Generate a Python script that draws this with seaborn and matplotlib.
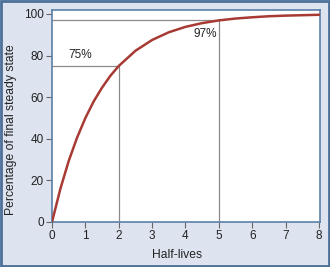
import matplotlib
matplotlib.use("Agg")
import matplotlib.pyplot as plt
import seaborn as sns
import pandas as pd
from matplotlib.patches import Rectangle

half_lives = [0, 0.25, 0.5, 0.75, 1, 1.25, 1.5, 1.75, 2, 2.5, 3, 3.5, 4, 4.5, 5, 5.5, 6, 6.5, 7, 7.5, 8]
percent = [0, 15.9, 29.3, 40.5, 50, 58.0, 64.6, 70.3, 75, 82.3, 87.5, 91.2, 93.8, 95.6, 96.9, 97.8, 98.4, 98.9, 99.2, 99.4, 99.6]
marks_x = [2, 5]
marks_y = [75, 97]
mark_labels = ["75%", "97%"]
x_ticks = [0, 1, 2, 3, 4, 5, 6, 7, 8]
y_ticks = [0, 20, 40, 60, 80, 100]

sns.set_theme(style="white")
plt.rcParams['font.family'] = ['Liberation Sans', 'DejaVu Sans']

bg = "#dde4f0"
spine_c = "#5b7fa8"
fig = plt.figure(figsize=(3.3, 2.67), dpi=100, facecolor=bg)
ax = fig.add_axes([52/330, 1-222/267, 268/330, 212/267])
ax.set_facecolor("white")

df = pd.DataFrame({"x": half_lives, "y": percent})
for mx, my in zip(marks_x, marks_y):
    ax.plot([0, mx], [my, my], color="#8a8a8a", lw=0.9, zorder=1)
    ax.plot([mx, mx], [0, my], color="#8a8a8a", lw=0.9, zorder=1)
sns.lineplot(data=df, x="x", y="y", ax=ax, color="#a83a34", lw=1.8, zorder=3)

ax.text(0.5, 77.5, mark_labels[0], fontsize=8.5, ha="left", va="bottom", color="#222222")
ax.text(4.93, 90.5, mark_labels[1], fontsize=8.5, ha="right", va="center", color="#222222")

ax.set_xlim(0, 8.03)
ax.set_ylim(0, 101.9)
ax.set_xticks(x_ticks)
ax.set_yticks(y_ticks)
ax.tick_params(axis="both", direction="out", length=4, width=0.8, color="#666666",
               labelsize=8.5, labelcolor="#222222", pad=2, bottom=True, left=True)
for s in ax.spines.values():
    s.set_color(spine_c)
    s.set_linewidth(1.2)
ax.set_xlabel("Half-lives", fontsize=8.7, color="#222222")
ax.set_ylabel("Percentage of final steady state", fontsize=8.7, color="#222222")
ax.xaxis.set_label_coords((177-52)/268, (222-249)/212)
ax.yaxis.set_label_coords((17-52)/268, (222-130)/212)

fig.patches.append(Rectangle((0.003, 0.004), 0.994, 0.992, transform=fig.transFigure,
                             fill=False, edgecolor="#4d6f98", lw=2))
fig.savefig("out.png", dpi=100, facecolor=bg)
